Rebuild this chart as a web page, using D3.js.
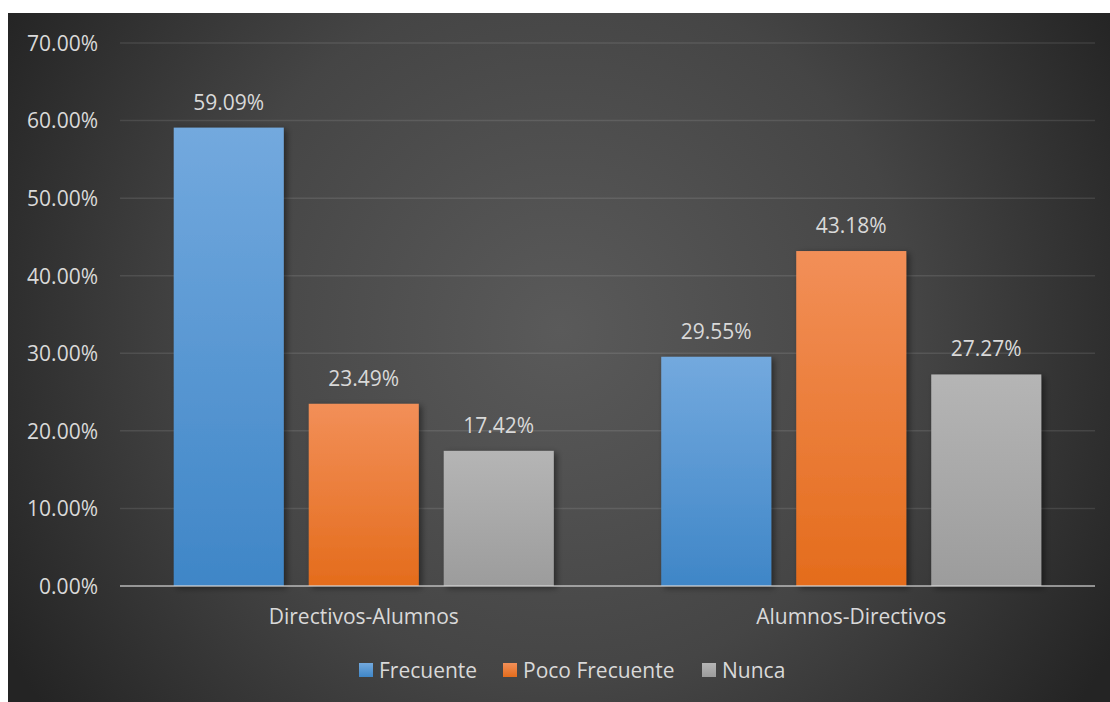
<!DOCTYPE html>
<html>
<head>
<meta charset="utf-8">
<script src="https://cdn.jsdelivr.net/npm/d3@7"></script>
<style>
  html, body { margin: 0; padding: 0; background: #ffffff; }
  svg { display: block; }
  text { font-family: "Open Sans", "Noto Sans", sans-serif; fill: #d9d9d9; }
</style>
</head>
<body>
<svg id="chart" width="1110" height="702"></svg>
<script>
// Chart data
const categories = ["Directivos-Alumnos", "Alumnos-Directivos"];
const seriesNames = ["Frecuente", "Poco Frecuente", "Nunca"];
const frecuente = [59.09, 29.55];
const pocoFrecuente = [23.49, 43.18];
const nunca = [17.42, 27.27];
const yTicks = [0, 10, 20, 30, 40, 50, 60, 70];

const seriesValues = [frecuente, pocoFrecuente, nunca];
const seriesColors = [
  { top: "#73a9de", bottom: "#3f86c7" },
  { top: "#f28f58", bottom: "#e46c1c" },
  { top: "#b5b5b5", bottom: "#9c9c9c" }
];

const svg = d3.select("#chart");
const W = 1110, H = 702;
const frame = { x: 8, y: 13, w: W - 8, h: H - 13 };
const plot = { left: 120, right: 1095, top: 43, bottom: 586 };
const FONT = 21;

const defs = svg.append("defs");

// Dark radial background
const bg = defs.append("radialGradient")
  .attr("id", "bgGrad")
  .attr("gradientUnits", "userSpaceOnUse")
  .attr("cx", 560).attr("cy", 330).attr("r", 640);
bg.append("stop").attr("offset", "0%").attr("stop-color", "#5a5a5a");
bg.append("stop").attr("offset", "55%").attr("stop-color", "#454545");
bg.append("stop").attr("offset", "100%").attr("stop-color", "#242424");

// Vertical gradients for each series
seriesColors.forEach((c, i) => {
  const g = defs.append("linearGradient")
    .attr("id", "barGrad" + i)
    .attr("x1", 0).attr("y1", 0).attr("x2", 0).attr("y2", 1);
  g.append("stop").attr("offset", "0%").attr("stop-color", c.top);
  g.append("stop").attr("offset", "100%").attr("stop-color", c.bottom);
});

// Soft shadow under the bars
const shadow = defs.append("filter").attr("id", "barShadow")
  .attr("x", "-20%").attr("y", "-20%").attr("width", "150%").attr("height", "150%");
shadow.append("feDropShadow")
  .attr("dx", 3).attr("dy", 2).attr("stdDeviation", 3)
  .attr("flood-color", "#000").attr("flood-opacity", 0.45);

svg.append("rect")
  .attr("x", frame.x).attr("y", frame.y)
  .attr("width", frame.w).attr("height", frame.h)
  .attr("fill", "url(#bgGrad)");

// Scales
const x0 = d3.scaleBand()
  .domain(categories)
  .range([plot.left, plot.right])
  .paddingInner(0).paddingOuter(0);

const x1 = d3.scaleBand()
  .domain(seriesNames)
  .range([0, x0.bandwidth()])
  .paddingInner(0.185)
  .paddingOuter(0.398);

const y = d3.scaleLinear()
  .domain([0, 70])
  .range([plot.bottom, plot.top]);

// Gridlines
svg.append("g")
  .selectAll("line")
  .data(yTicks.filter(t => t > 0))
  .join("line")
  .attr("x1", plot.left).attr("x2", plot.right)
  .attr("y1", d => y(d)).attr("y2", d => y(d))
  .attr("stroke", "#ffffff").attr("stroke-opacity", 0.1)
  .attr("stroke-width", 1.5);

// Y axis labels
const yAxis = d3.axisLeft(y)
  .tickValues(yTicks)
  .tickFormat(d => d3.format(".2f")(d) + "%")
  .tickSize(0)
  .tickPadding(22);

const yG = svg.append("g")
  .attr("transform", `translate(${plot.left},0)`)
  .call(yAxis);
yG.select(".domain").remove();
yG.selectAll("text")
  .attr("font-size", FONT)
  .attr("fill", "#d9d9d9")
  .attr("dy", "0.35em");

// Bars
const groups = svg.append("g")
  .selectAll("g")
  .data(categories)
  .join("g")
  .attr("transform", d => `translate(${x0(d)},0)`);

groups.selectAll("rect")
  .data((d, ci) => seriesNames.map((s, si) => ({ s, si, v: seriesValues[si][ci] })))
  .join("rect")
  .attr("x", d => x1(d.s))
  .attr("width", x1.bandwidth())
  .attr("y", d => y(d.v))
  .attr("height", d => y(0) - y(d.v))
  .attr("fill", d => `url(#barGrad${d.si})`)
  .attr("filter", "url(#barShadow)");

// Value labels
groups.selectAll("text.value")
  .data((d, ci) => seriesNames.map((s, si) => ({ s, si, v: seriesValues[si][ci] })))
  .join("text")
  .attr("class", "value")
  .attr("x", d => x1(d.s) + x1.bandwidth() / 2)
  .attr("y", d => y(d.v) - 18)
  .attr("text-anchor", "middle")
  .attr("font-size", FONT)
  .text(d => d3.format(".2f")(d.v) + "%");

// Baseline
svg.append("line")
  .attr("x1", plot.left).attr("x2", plot.right)
  .attr("y1", y(0)).attr("y2", y(0))
  .attr("stroke", "#d9d9d9").attr("stroke-opacity", 0.6)
  .attr("stroke-width", 2);

// Category labels
const xAxis = d3.axisBottom(x0).tickSize(0).tickPadding(23);
const xG = svg.append("g")
  .attr("transform", `translate(0,${plot.bottom})`)
  .call(xAxis);
xG.select(".domain").remove();
xG.selectAll("text")
  .attr("font-size", FONT)
  .attr("fill", "#d9d9d9");

// Legend
const legendItems = [
  { name: seriesNames[0], x: 359 },
  { name: seriesNames[1], x: 503 },
  { name: seriesNames[2], x: 702 }
];
const legend = svg.append("g");
legendItems.forEach((it, i) => {
  legend.append("rect")
    .attr("x", it.x).attr("y", 663)
    .attr("width", 14).attr("height", 14)
    .attr("fill", `url(#barGrad${i})`);
  legend.append("text")
    .attr("x", it.x + 20).attr("y", 671)
    .attr("dy", "0.35em")
    .attr("font-size", FONT)
    .text(it.name);
});
</script>
</body>
</html>
